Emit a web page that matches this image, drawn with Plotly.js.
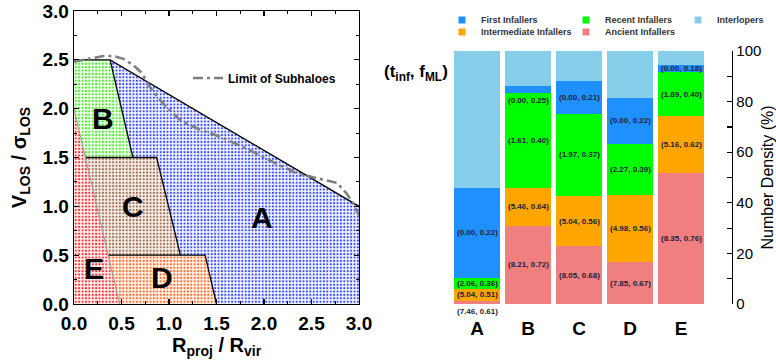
<!DOCTYPE html>
<html>
<head>
<meta charset="utf-8">
<script src="https://cdn.plot.ly/plotly-3.0.1.min.js"></script>
<style>
  html, body { margin: 0; padding: 0; background: #fff; }
  #chart { width: 776px; height: 361px; }
</style>
</head>
<body>
<div id="chart"></div>
<script>
// ---- Phase-space regions (R_proj / R_vir, V_LOS / sigma_LOS) ----
const regionAX = [0.38, 3.0, 3.0, 1.5, 1.38, 1.12, 0.87, 0.62, 0.38];
const regionAY = [2.5, 1.0, 0.0, 0.0, 0.5, 0.5, 1.5, 1.5, 2.5];
const regionBX = [0.0, 0.38, 0.62, 0.0, 0.0];
const regionBY = [2.5, 2.5, 1.5, 1.5, 2.5];
const regionCX = [0.0, 0.87, 1.12, 0.0, 0.0];
const regionCY = [1.5, 1.5, 0.5, 0.5, 1.5];
const regionDX = [0.0, 1.38, 1.5, 0.0, 0.0];
const regionDY = [0.5, 0.5, 0.0, 0.0, 0.5];
const regionEX = [0.0, 0.0, 0.48, 0.0];
const regionEY = [0.0, 2.0, 0.0, 0.0];

// Limit of subhaloes (dash-dot curve)
const limitX = [0.0, 0.17, 0.31, 0.41, 0.52, 0.62, 0.71, 0.80, 0.94, 1.12, 1.29, 1.57, 1.82, 2.06, 2.34, 2.55, 2.77, 2.87, 2.94, 3.01];
const limitY = [2.48, 2.51, 2.54, 2.54, 2.51, 2.45, 2.37, 2.22, 2.05, 1.88, 1.80, 1.70, 1.59, 1.47, 1.34, 1.29, 1.24, 1.13, 1.03, 0.89];

// Region letters and where they sit
const regionNames = ['A', 'B', 'C', 'D', 'E'];
const regionLabelX = [1.98, 0.31, 0.62, 0.93, 0.21];
const regionLabelY = [0.89, 1.90, 1.00, 0.27, 0.36];

// ---- Number density per region (%) ----
const categories = ['A', 'B', 'C', 'D', 'E'];
const ancient      = [1.3, 30.9, 22.9, 16.6, 51.9];
const intermediate = [4.7, 15.1, 19.8, 26.5, 22.5];
const recent       = [4.4, 37.5, 32.4, 20.3, 17.2];
const first        = [35.4, 2.8, 13.2, 18.1, 3.0];
const interlopers  = [54.2, 13.7, 11.7, 18.5, 5.4];

// (t_inf, f_ML) for each population
const tInfAncient      = [7.46, 8.21, 8.05, 7.85, 8.35];
const fMLAncient       = [0.61, 0.72, 0.68, 0.67, 0.76];
const tInfIntermediate = [5.04, 5.46, 5.04, 4.98, 5.16];
const fMLIntermediate  = [0.51, 0.64, 0.56, 0.56, 0.62];
const tInfRecent       = [2.06, 1.61, 1.97, 2.27, 1.89];
const fMLRecent        = [0.36, 0.40, 0.37, 0.39, 0.40];
const tInfFirst        = [0.00, 0.00, 0.00, 0.00, 0.00];
const fMLFirst         = [0.22, 0.25, 0.21, 0.22, 0.18];

const FONT = '"Liberation Sans", Arial, sans-serif';
const W = 776, H = 361;
const px = v => v / W;
const py = v => 1 - v / H;

// x position of the E boundary (straight line from its top to its foot)
const eTop = regionEY[1], eFoot = regionEX[2];
const xOnE = y => eFoot * (1 - y / eTop);

function regionTrace(xs, ys, fg, bg) {
  return {
    type: 'scatter', mode: 'none', x: xs, y: ys, xaxis: 'x', yaxis: 'y',
    fill: 'toself', fillcolor: bg, hoverinfo: 'skip', showlegend: false,
    fillpattern: { shape: '.', fgcolor: fg, bgcolor: bg, size: 3.4, solidity: 0.3, fillmode: 'replace' }
  };
}
function edgeTrace(xs, ys, color, width) {
  return {
    type: 'scatter', mode: 'lines', x: xs, y: ys, xaxis: 'x', yaxis: 'y',
    line: { color: color, width: width }, hoverinfo: 'skip', showlegend: false
  };
}

const traces = [
  regionTrace(regionAX, regionAY, '#3347ff', '#f3f4ff'),
  regionTrace(regionBX, regionBY, '#44ee22', '#f3fff0'),
  regionTrace(regionCX, regionCY, '#9a6a4e', '#f6eee8'),
  regionTrace(regionDX, regionDY, '#ff6a2a', '#fff0e6'),
  regionTrace(regionEX, regionEY, '#ff2a2a', '#fff0f0'),
  // boundaries
  edgeTrace([regionBX[0], regionAX[0], regionAX[1]], [regionBY[0], regionAY[0], regionAY[1]], '#000', 1.3),
  edgeTrace([regionBX[1], regionBX[2]], [regionBY[1], regionBY[2]], '#000', 1.3),
  edgeTrace([xOnE(regionCY[0]), regionCX[1], regionCX[2]], [regionCY[0], regionCY[1], regionCY[2]], '#000', 1.3),
  edgeTrace([xOnE(regionDY[0]), regionDX[1], regionDX[2]], [regionDY[0], regionDY[1], regionDY[2]], '#000', 1.3),
  edgeTrace([regionEX[1], regionEX[2]], [regionEY[1], regionEY[2]], '#999', 1),
  {
    type: 'scatter', mode: 'lines', x: limitX, y: limitY, xaxis: 'x', yaxis: 'y',
    name: 'Limit of Subhaloes', showlegend: true, hoverinfo: 'skip',
    line: { color: '#7f7f7f', width: 2.6, dash: '10px,4px,3px,4px' }
  }
];

// Stacked bars, bottom to top
const stack = [
  { name: 'Ancient Infallers',      y: ancient,      color: '#f08080', t: tInfAncient,      f: fMLAncient },
  { name: 'Intermediate Infallers', y: intermediate, color: '#ffa500', t: tInfIntermediate, f: fMLIntermediate },
  { name: 'Recent Infallers',       y: recent,       color: '#00ff00', t: tInfRecent,       f: fMLRecent },
  { name: 'First Infallers',        y: first,        color: '#1e90ff', t: tInfFirst,        f: fMLFirst },
  { name: 'Interlopers',            y: interlopers,  color: '#87ceeb', t: null,             f: null }
];
stack.forEach(s => traces.push({
  type: 'bar', x: categories, y: s.y, name: s.name, xaxis: 'x2', yaxis: 'y2',
  marker: { color: s.color, line: { width: 0 } }, showlegend: false, hoverinfo: 'skip'
}));

const annotations = [];
// segment labels
const base = categories.map(() => 0);
stack.forEach(s => {
  s.y.forEach((v, i) => {
    if (s.t) {
      const small = v < 3;
      annotations.push({
        xref: 'x2', yref: 'y2', x: categories[i],
        y: small ? base[i] : base[i] + v / 2,
        yanchor: small ? 'top' : 'middle', yshift: small ? -1 : 0,
        text: '(' + s.t[i].toFixed(2) + ', ' + s.f[i].toFixed(2) + ')',
        showarrow: false,
        font: { family: FONT, size: 8, color: '#22223a', weight: 'bold' }
      });
    }
    base[i] += v;
  });
});
// region letters in the phase-space panel
regionNames.forEach((n, i) => annotations.push({
  xref: 'x', yref: 'y', x: regionLabelX[i], y: regionLabelY[i], text: n, showarrow: false,
  font: { family: FONT, size: 30, color: '#000', weight: 'bold' }
}));
// header for the bar labels
annotations.push({
  xref: 'paper', yref: 'paper', x: px(416), y: py(60), text: '(t<sub>inf</sub>, f<sub>ML</sub>)',
  showarrow: false, font: { family: FONT, size: 17, color: '#000', weight: 'bold' }
});

// legend for the bar populations: two rows, three columns
const legendOrder = ['First Infallers', 'Intermediate Infallers', 'Recent Infallers', 'Ancient Infallers', 'Interlopers'];
const colX = [462, 586, 698], rowY = [20, 32];
const shapes = [];
legendOrder.forEach((name, k) => {
  const s = stack.find(e => e.name === name);
  const cx = colX[Math.floor(k / 2)], cy = rowY[k % 2];
  shapes.push({
    type: 'rect', xref: 'paper', yref: 'paper',
    x0: px(cx - 3.5), x1: px(cx + 3.5), y0: py(cy + 3.5), y1: py(cy - 3.5),
    fillcolor: s.color, line: { width: 0 }
  });
  annotations.push({
    xref: 'paper', yref: 'paper', x: px(cx + 17), y: py(cy), xanchor: 'left', yanchor: 'middle',
    text: name, showarrow: false, font: { family: FONT, size: 9, color: '#333', weight: 'bold' }
  });
});

const axisFont = { family: FONT, size: 19, color: '#000', weight: 'bold' };
const layout = {
  width: W, height: H,
  margin: { l: 0, r: 0, t: 0, b: 0 },
  paper_bgcolor: '#fff', plot_bgcolor: '#fff',
  font: { family: FONT, color: '#000' },
  bargap: 0.08, barmode: 'stack',
  xaxis: {
    domain: [px(74), px(359)], range: [0, 3], anchor: 'y',
    showline: true, linecolor: '#000', linewidth: 1.3, mirror: 'allticks',
    ticks: 'inside', ticklen: 5, tickwidth: 1.2, tickcolor: '#000', dtick: 0.5, tickformat: '.1f',
    minor: { ticks: 'inside', dtick: 0.25, ticklen: 3, tickwidth: 1, tickcolor: '#000' },
    showgrid: false, zeroline: false, tickfont: axisFont, ticklabelstandoff: 2,
    title: { text: 'R<sub>proj</sub> / R<sub>vir</sub>', font: { family: FONT, size: 20, color: '#000', weight: 'bold' }, standoff: 4 }
  },
  yaxis: {
    domain: [1 - 304 / H, 1 - 11 / H], range: [0, 3], anchor: 'x',
    showline: true, linecolor: '#000', linewidth: 1.3, mirror: 'allticks',
    ticks: 'inside', ticklen: 5, tickwidth: 1.2, tickcolor: '#000', dtick: 0.5, tickformat: '.1f',
    minor: { ticks: 'inside', dtick: 0.25, ticklen: 3, tickwidth: 1, tickcolor: '#000' },
    showgrid: false, zeroline: false, tickfont: axisFont,
    title: { text: 'V<sub>LOS</sub> / σ<sub>LOS</sub>', font: { family: FONT, size: 20, color: '#000', weight: 'bold' }, standoff: 10 }
  },
  xaxis2: {
    domain: [px(451.5), px(732)], range: [-0.5, 5.0], anchor: 'y2', type: 'category',
    showline: false, ticks: '', showgrid: false, zeroline: false, ticklabelstandoff: 11,
    tickfont: { family: FONT, size: 19, color: '#000', weight: 'bold' }
  },
  yaxis2: {
    domain: [1 - 304 / H, 1 - 51 / H], range: [0, 100], anchor: 'x2', side: 'right',
    showline: true, linecolor: '#000', linewidth: 1.3,
    ticks: 'inside', ticklen: 5, tickwidth: 1.2, tickcolor: '#000', dtick: 20,
    minor: { ticks: 'inside', dtick: 10, ticklen: 5, tickwidth: 1.2, tickcolor: '#000' },
    showgrid: false, zeroline: false,
    tickfont: { family: FONT, size: 15, color: '#000' },
    title: { text: 'Number Density (%)', font: { family: FONT, size: 16, color: '#000' }, standoff: 8 }
  },
  legend: {
    x: px(188), y: py(78), xanchor: 'left', yanchor: 'middle',
    bgcolor: 'rgba(0,0,0,0)', borderwidth: 0,
    font: { family: FONT, size: 12, color: '#000', weight: 'bold' }
  },
  annotations: annotations,
  shapes: shapes
};

Plotly.newPlot('chart', traces, layout, { displayModeBar: false, staticPlot: true });
</script>
</body>
</html>
